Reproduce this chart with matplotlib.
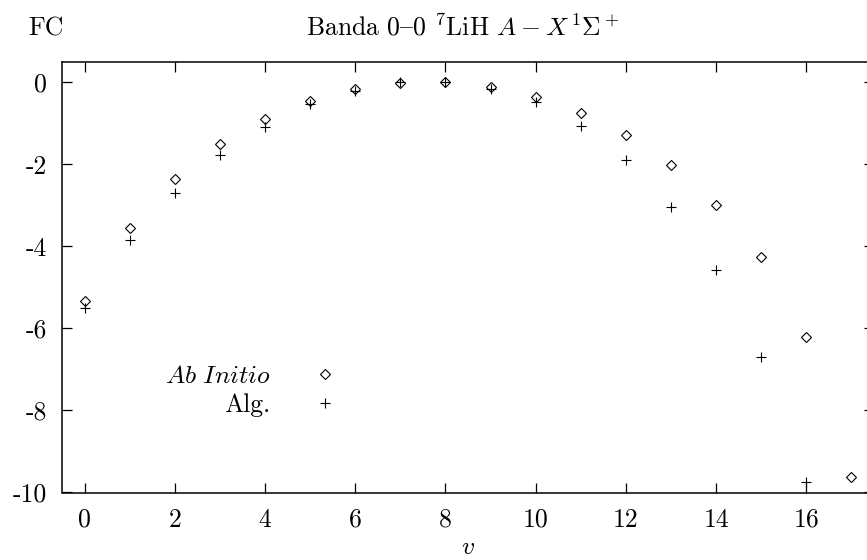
#!/usr/bin/env python3
"""
Franck-Condon factors for the 0-0 band of 7LiH A-X,
ab initio values vs. algebraic model (log scale values)
"""

import matplotlib
matplotlib.use('Agg')
import matplotlib.pyplot as plt

# Data
v_ab = list(range(18))
fc_ab_initio = [-5.34, -3.54, -2.36, -1.51, -0.89, -0.45, -0.16, -0.01, 0.0,
                -0.10, -0.35, -0.74, -1.29, -2.02, -3.00, -4.26, -6.21, -9.63]
v_alg = list(range(17))
fc_alg = [-5.49, -3.85, -2.69, -1.76, -1.08, -0.53, -0.20, 0.0, 0.0,
          -0.15, -0.47, -1.06, -1.88, -3.04, -4.57, -6.70, -9.74]

x_ticks = [0, 2, 4, 6, 8, 10, 12, 14, 16]
x_tick_labels = ['0', '2', '4', '6', '8', '10', '12', '14', '16']
y_ticks = [-10, -8, -6, -4, -2, 0]
y_tick_labels = ['-10', '-8', '-6', '-4', '-2', '0']

# TeX-like look
plt.rcParams['font.family'] = ['cmr10', 'DejaVu Serif']
plt.rcParams['mathtext.fontset'] = 'cm'
plt.rcParams['axes.unicode_minus'] = False
plt.rcParams['axes.formatter.use_mathtext'] = True

fs = 18.5
W, H = 867, 560
fig = plt.figure(figsize=(W / 100, H / 100), dpi=100)

# axes box in pixels (right edge runs slightly past the image)
left, right, top, bottom = 62, 874, 62, 492.5
ax = fig.add_axes([left / W, 1 - bottom / H, (right - left) / W, (bottom - top) / H])

ax.plot(v_ab, fc_ab_initio, linestyle='none', marker='D', markersize=4.6,
        markerfacecolor='none', markeredgecolor='black', markeredgewidth=0.8,
        label='$Ab\\ Initio$')
ax.plot(v_alg, fc_alg, linestyle='none', marker='+', markersize=6.5,
        color='black', markeredgewidth=0.8, label='Alg.')

ax.set_xlim(-0.5, 17.5)
ax.set_ylim(-10, 0.5)
ax.set_xticks(x_ticks, x_tick_labels)
ax.set_yticks(y_ticks, y_tick_labels)
ax.tick_params(direction='in', length=7.3, width=0.9, top=True, right=True,
               labelsize=fs, pad=11)
for s in ax.spines.values():
    s.set_linewidth(1.1)

# in the TeX-encoded cmr10 font, slot '{' holds the en dash
ax.set_title('Banda 0{0 $^7$LiH $A - X\\,^1\\Sigma^+$', fontsize=fs, pad=19, x=0.494)
ax.set_xlabel('$v$', fontsize=fs, labelpad=3)
ax.set_ylabel('FC', fontsize=fs, rotation=0, ha='left', va='baseline')
ax.yaxis.set_label_coords(-0.0419, 1.061)

ax.legend(loc='center right', bbox_to_anchor=(0.355, 0.237), frameon=False,
          markerfirst=False, fontsize=fs, handlelength=1.0, handletextpad=1.6,
          labelspacing=0.2, borderpad=0)

plt.savefig('out.png', dpi=100)
